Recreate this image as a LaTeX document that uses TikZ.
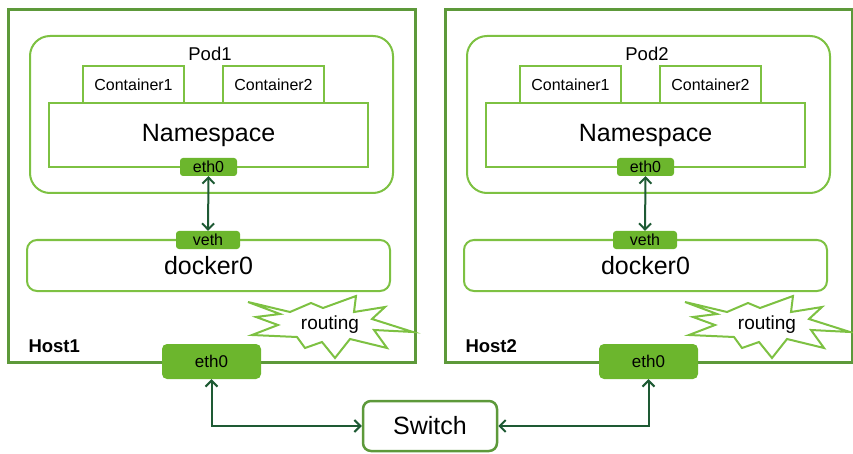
\documentclass[tikz,border=0pt]{standalone}
\usepackage{fontspec}
\setmainfont{Liberation Sans}
\usetikzlibrary{arrows.meta}

\definecolor{leaf}{RGB}{125,193,66}
\definecolor{moss}{RGB}{93,153,58}
\definecolor{nicfill}{RGB}{108,182,45}
\definecolor{wire}{RGB}{30,90,52}

\newcommand{\fs}[1]{\fontsize{#1}{#1}\selectfont}

\tikzset{
    host/.style={draw=moss,line width=3pt,minimum width=407,minimum height=352,inner sep=0},
    pod/.style={draw=leaf,line width=2pt,rounded corners=20pt,minimum width=363,minimum height=157,inner sep=0},
    cont/.style={draw=leaf,line width=2pt,fill=white,minimum width=101,minimum height=37,inner sep=0,font=\fs{16}},
    ns/.style={draw=leaf,line width=2pt,fill=white,minimum width=319,minimum height=64,inner sep=0,font=\fs{25}},
    nic/.style={fill=nicfill,rounded corners=3pt,inner sep=0,font=\fs{16}},
    bridge/.style={draw=leaf,line width=2pt,rounded corners=10pt,minimum width=363,minimum height=51,inner sep=0,font=\fs{25}},
    burst/.style={draw=leaf,line width=2pt,fill=white,line join=miter},
    sw/.style={draw=moss,line width=2.5pt,rounded corners=8pt,fill=white,minimum width=134,minimum height=50,inner sep=0,font=\fs{25}},
    link/.style={draw=wire,line width=2pt,{Straight Barb[length=6pt,width=12pt]}-{Straight Barb[length=6pt,width=12pt]}}
}

\begin{document}
\begin{tikzpicture}[x=1pt,y=-1pt]
    \useasboundingbox (0,0) rectangle (853,454);

    % two hosts, the second one shifted to the right
    \foreach \n/\dx in {1/0,2/437}{
        \begin{scope}[xshift=\dx]
            \node[host] (host\n) at (211.5,186) {};
            \node[pod] (pod\n) at (211.5,114.5) {};
            \node[font=\fs{18.5}] at (210,54) {Pod\n};
            \node[cont] (ca\n) at (133.5,84.5) {Container1};
            \node[cont] (cb\n) at (273.5,84.5) {Container2};
            \node[ns] (ns\n) at (208.5,135) {Namespace};
            \node[nic,minimum width=57,minimum height=18] (peth\n) at (208.5,167) {eth0};

            \node[bridge] (docker\n) at (208.5,265.5) {docker0};
            \node[nic,minimum width=64,minimum height=18] (veth\n) at (208,240) {veth};
            \draw[link] (peth\n.south) -- (veth\n.north);

            % routing burst
            \coordinate (route\n) at (330,325);
            \draw[burst,shift={(route\n)}] (-82,-23) -- (-40,-13) -- (-19,-22) -- (-7,-17) -- (26,-29)
                -- (24,-13) -- (55,-18) -- (42,-6) -- (83,7) -- (44,5) -- (57,23) -- (20,14)
                -- (5,33) -- (-8,17) -- (-25,23) -- (-33,12) -- (-78,10) -- (-52,0) -- (-74,-8)
                -- (-50,-11) -- cycle;
            \node[font=\fs{19}] at (route\n) {routing};

            \node[anchor=west,font=\bfseries\fs{18.5}] at (25,346) {Host\n};
            \node[nic,rounded corners=5pt,minimum width=99,minimum height=35,font=\fs{17}] (heth\n) at (211.5,361.5) {eth0};
        \end{scope}
    }

    \node[sw] (switch) at (430,426) {Switch};

    \draw[link] (heth1.south) |- (switch.west);
    \draw[link] (heth2.south) |- (switch.east);
\end{tikzpicture}
\end{document}
